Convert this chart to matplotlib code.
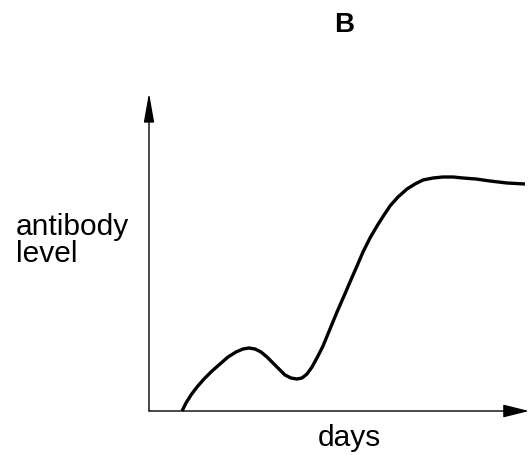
import matplotlib
matplotlib.use("Agg")
import matplotlib.pyplot as plt

plt.rcParams['font.family'] = ['Liberation Sans', 'DejaVu Sans']

# curve (days, antibody level), arbitrary units
days = [33, 37, 42, 48, 55, 63, 71, 79, 87, 94, 100, 106, 112, 118, 124,
        130, 136, 142, 148, 153, 158, 163, 169, 174, 181, 188, 195, 201,
        208, 214, 221, 228, 235, 241, 249, 258, 266, 274, 284, 294, 304,
        314, 327, 341, 358, 376]
level = [0, 8, 16, 24, 32, 40, 47, 54, 59, 62, 63, 62, 59, 54, 48,
         42, 36, 33, 32, 33, 37, 44, 55, 65, 82, 99, 115, 129,
         145, 159, 173, 185, 196, 205, 214, 222, 227, 231, 233, 234, 234,
         233, 232, 230, 228, 227]

W, H = 529, 456
x0, y0 = 149, 412      # axis origin in pixels
x1, y1 = 529, 94       # arrow tips

fig = plt.figure(figsize=(W / 100, H / 100), dpi=100)
ax = fig.add_axes([x0 / W, (H - y0) / H, (x1 - x0) / W, (y0 - y1) / H])
ax.set_xlim(0, x1 - x0)
ax.set_ylim(0, y0 - y1)
ax.axis('off')

ax.plot(days, level, color='black', lw=2.4, solid_joinstyle='round',
        solid_capstyle='butt', clip_on=False)

# axes with arrowheads
ax.annotate('', xy=(x1 - x0, 0), xytext=(0, 0),
            arrowprops=dict(arrowstyle='-|>,head_length=1.6,head_width=0.4',
                            color='black', lw=1, shrinkA=0, shrinkB=0),
            annotation_clip=False)
ax.annotate('', xy=(0, y0 - y1), xytext=(0, 0),
            arrowprops=dict(arrowstyle='-|>,head_length=1.8,head_width=0.32',
                            color='black', lw=1, shrinkA=0, shrinkB=0),
            annotation_clip=False)

fig.text(344 / W, 1 - 32 / H, 'B', fontsize=20, fontweight='bold',
         ha='center', va='baseline')
fig.text(16 / W, 1 - 235 / H, 'antibody', fontsize=21.5,
         ha='left', va='baseline')
fig.text(16 / W, 1 - 262 / H, 'level', fontsize=21.5,
         ha='left', va='baseline')
fig.text(349.5 / W, 1 - 446 / H, 'days', fontsize=21.5,
         ha='center', va='baseline')

fig.savefig('out.png', dpi=100)
